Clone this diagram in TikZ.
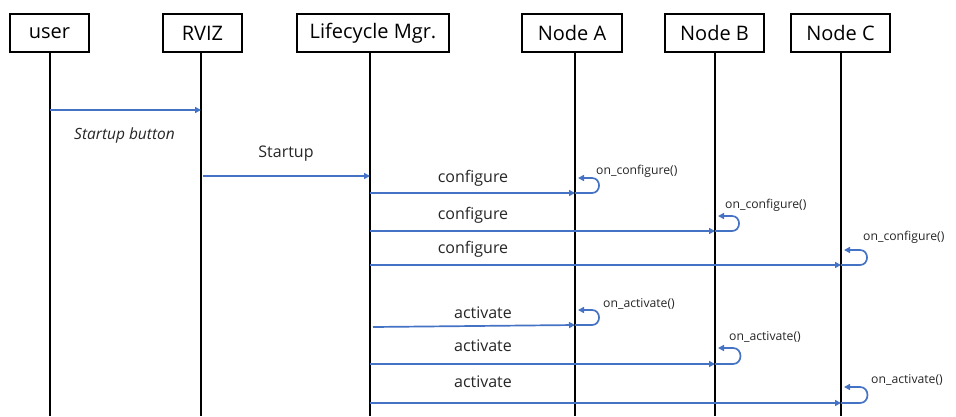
\documentclass[tikz,border=0pt]{standalone}
\usepackage{fontspec}
\setmainfont{Open Sans}
\usetikzlibrary{arrows.meta}
\definecolor{msgblue}{HTML}{4472C4}
\tikzset{
  actor/.style={draw=black, line width=1.2pt, fill=white, minimum height=38pt, inner sep=0pt, font=\fontsize{20}{22}\selectfont},
  life/.style={draw=black, line width=1.9pt},
  msg/.style={draw=msgblue, line width=1.7pt, -{Triangle[length=6pt,width=6pt]}},
  lbl/.style={font=\fontsize{16}{18}\selectfont, text=black!85, inner sep=0pt},
  slbl/.style={font=\fontsize{12.2}{14}\selectfont, text=black!85, inner sep=0pt, anchor=west},
}
\newcommand{\selfloop}[4]{% #1 node, #2 bottom y, #3 top y, #4 max x
  \draw[msg] (#1 |- 0,#2) -- ([xshift=-7pt]#4,#2) to[out=0,in=0,looseness=1.6] ([xshift=-7pt]#4,#3) -- ([xshift=3pt]#1 |- 0,#3);
}
\begin{document}
\begin{tikzpicture}[x=1pt,y=-1pt]
\useasboundingbox (0,0) rectangle (956,416);
% actors
\node[actor, minimum width=79pt] (user) at (49.5,33) {user};
\node[actor, minimum width=79pt] (rviz) at (202.5,33) {RVIZ};
\node[actor, minimum width=152pt] (lm) at (373,33) {Lifecycle Mgr.};
\node[actor, minimum width=100pt] (na) at (572,33) {Node A};
\node[actor, minimum width=99pt] (nb) at (714.5,33) {Node B};
\node[actor, minimum width=99pt] (nc) at (840.5,33) {Node C};
% lifeline ends
\coordinate (userE) at (50,416);
\coordinate (rvizE) at (201,416);
\coordinate (lmE) at (370,416);
\coordinate (naE) at (575,416);
\coordinate (nbE) at (715,416);
\coordinate (ncE) at (841,416);
\draw[life] (userE |- user.south) -- (userE);
\draw[life] (rvizE |- rviz.south) -- (rvizE);
\draw[life] (lmE |- lm.south) -- (lmE);
\draw[life] (naE |- na.south) -- (naE);
\draw[life] (nbE |- nb.south) -- (nbE);
\draw[life] (ncE |- nc.south) -- (ncE);
% messages
\draw[msg] (userE |- 0,110) -- (rvizE |- 0,110);
\node[lbl, font=\fontsize{15.5}{17}\itshape] (t0) at (124.5,135) {Startup button};
\draw[msg] ([xshift=2pt]rvizE |- 0,176) -- (lmE |- 0,176);
\node[lbl] (t1) at (286,154) {Startup};
% configure
\draw[msg] (lmE |- 0,193) -- (naE |- 0,193);
\node[lbl] (c1) at (473,178) {configure};
\draw[msg] (lmE |- 0,231) -- (nbE |- 0,231);
\node[lbl] (c2) at (473,215) {configure};
\draw[msg] (lmE |- 0,265) -- (ncE |- 0,265);
\node[lbl] (c3) at (473,249) {configure};
\selfloop{naE}{193}{178}{599}
\node[slbl] (oc1) at (596,171) {on\_configure()};
\selfloop{nbE}{231}{216}{739}
\node[slbl] (oc2) at (725,205) {on\_configure()};
\selfloop{ncE}{265}{250}{867}
\node[slbl] (oc3) at (863,237) {on\_configure()};
% activate
\draw[msg] ([xshift=3pt]lmE |- 0,327) -- (naE |- 0,325);
\node[lbl] (a1) at (483,313) {activate};
\draw[msg] (lmE |- 0,364) -- (nbE |- 0,364);
\node[lbl] (a2) at (483,346) {activate};
\draw[msg] (lmE |- 0,403) -- (ncE |- 0,403);
\node[lbl] (a3) at (483,382) {activate};
\selfloop{naE}{325}{310}{599}
\node[slbl] (oa1) at (603,304) {on\_activate()};
\selfloop{nbE}{364}{348}{740}
\node[slbl] (oa2) at (729,337) {on\_activate()};
\selfloop{ncE}{403}{387}{867}
\node[slbl] (oa3) at (871,380) {on\_activate()};
\end{tikzpicture}
\end{document}
